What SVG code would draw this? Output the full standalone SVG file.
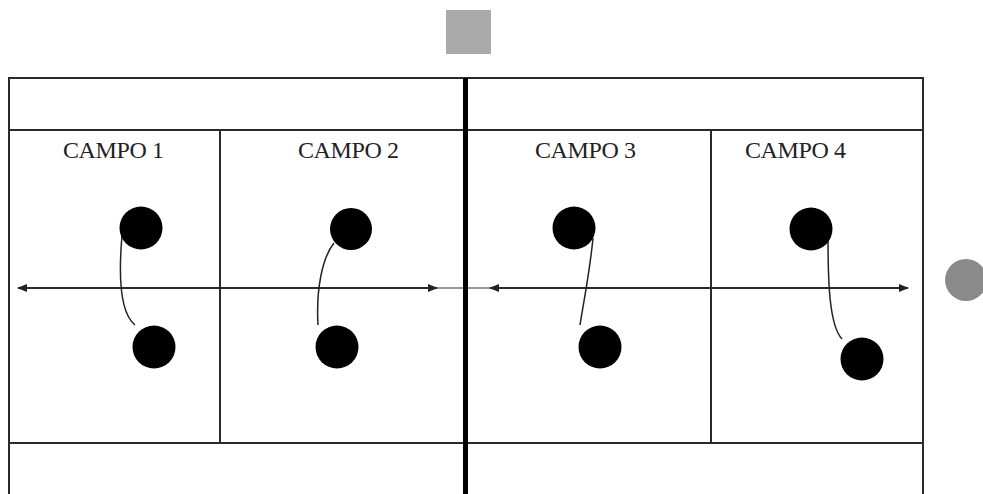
<svg xmlns="http://www.w3.org/2000/svg" width="983" height="494" viewBox="0 0 983 494">
<style>
.ln{stroke:#2a2a2a;stroke-width:2;fill:none}
.cv{stroke:#222;stroke-width:1.5;fill:none}
.dot{fill:#000}
.lbl{font-family:"Liberation Serif","Times New Roman",serif;font-size:24px;fill:#222;letter-spacing:-0.4px}
</style>
<defs>
<marker id="ah" viewBox="0 0 10 8" refX="9" refY="4" markerWidth="10" markerHeight="8" markerUnits="userSpaceOnUse" orient="auto-start-reverse">
<path d="M0,0 L10,4 L0,8 Z" fill="#222"/>
</marker>
</defs>
<rect width="983" height="494" fill="#fff"/>
<g id="field">
<path class="ln" d="M9,494 V78 H923 V494"/>
<line class="ln" x1="9" y1="130" x2="923" y2="130"/>
<line class="ln" x1="9" y1="443" x2="923" y2="443"/>
<line class="ln" x1="220" y1="130" x2="220" y2="443"/>
<line class="ln" x1="711" y1="130" x2="711" y2="443"/>
<line x1="437" y1="288" x2="490" y2="288" stroke="#999" stroke-width="2"/>
<line x1="465.5" y1="78" x2="465.5" y2="494" stroke="#000" stroke-width="5"/>
</g>
<g id="square"><rect x="446" y="10" width="45" height="44" fill="#aaa"/></g>
<g id="ball"><circle cx="966" cy="280" r="21" fill="#8a8a8a"/></g>
<g id="labels">
<text class="lbl" x="63" y="158">CAMPO 1</text>
<text class="lbl" x="298" y="158">CAMPO 2</text>
<text class="lbl" x="535" y="158">CAMPO 3</text>
<text class="lbl" x="745" y="158">CAMPO 4</text>
</g>
<g id="connectors">
<line class="ln" x1="18" y1="288" x2="437" y2="288" stroke-width="1.8" marker-start="url(#ah)" marker-end="url(#ah)"/>
<line class="ln" x1="490" y1="288" x2="908" y2="288" stroke-width="1.8" marker-start="url(#ah)" marker-end="url(#ah)"/>
<path class="cv" d="M122,236 C119,270 119,312 135,325"/>
<path class="cv" d="M334,243 C322,258 316,290 318,325"/>
<path class="cv" d="M593,238 C590,270 584,300 580,325"/>
<path class="cv" d="M828,238 C828,280 829,325 842,339"/>
</g>
<g id="players">
<circle class="dot" cx="141" cy="228" r="21.5"/>
<circle class="dot" cx="154" cy="347" r="21.5"/>
<circle class="dot" cx="351" cy="229" r="21"/>
<circle class="dot" cx="337" cy="347" r="21.5"/>
<circle class="dot" cx="574" cy="228" r="21.5"/>
<circle class="dot" cx="600" cy="347" r="21.5"/>
<circle class="dot" cx="811" cy="229" r="21.5"/>
<circle class="dot" cx="862" cy="359" r="21.5"/>
</g>
</svg>
